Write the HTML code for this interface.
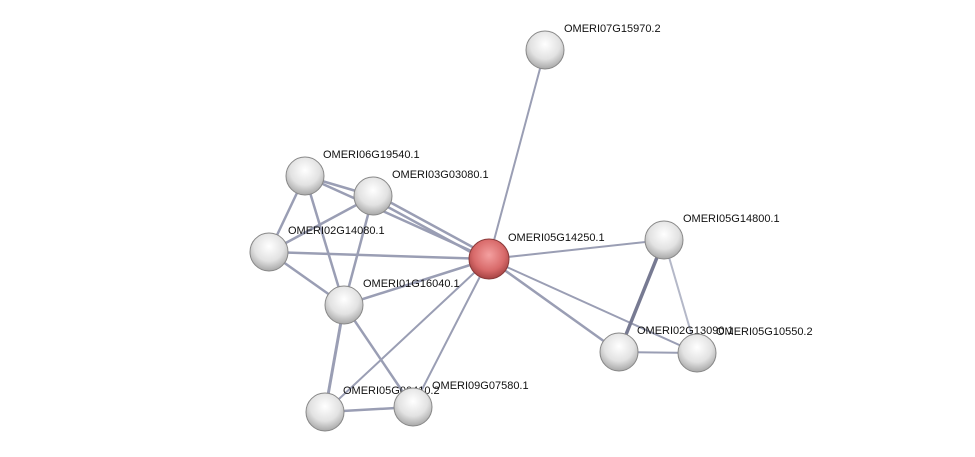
<!DOCTYPE html>
<html><head><meta charset="utf-8"><style>
html,body{margin:0;padding:0;background:#fff;}
svg{display:block;}
text{font-family:"Liberation Sans",sans-serif;font-size:11px;fill:#111;}
</style></head><body>
<svg width="975" height="457" viewBox="0 0 975 457" xmlns="http://www.w3.org/2000/svg">
<defs>
<radialGradient id="g" cx="50%" cy="35%" r="65%">
<stop offset="0" stop-color="#ffffff"/><stop offset="0.6" stop-color="#e2e2e2"/><stop offset="1" stop-color="#a8a8a8"/>
</radialGradient>
<radialGradient id="r" cx="50%" cy="40%" r="65%">
<stop offset="0" stop-color="#f4a0a0"/><stop offset="0.6" stop-color="#d86a6a"/><stop offset="1" stop-color="#9a3a3a"/>
</radialGradient>
</defs>
<g stroke="#9a9eb4" stroke-width="2.5" fill="none">
<line x1="489" y1="259" x2="545" y2="50" stroke-width="2"/>
<line x1="489" y1="259" x2="305" y2="176"/>
<line x1="489" y1="256" x2="373" y2="193"/>
<line x1="489" y1="262" x2="373" y2="199"/>
<line x1="489" y1="259" x2="269" y2="252"/>
<line x1="489" y1="259" x2="344" y2="305"/>
<line x1="489" y1="259" x2="664" y2="240" stroke-width="2"/>
<line x1="489" y1="259" x2="619" y2="352"/>
<line x1="489" y1="259" x2="697" y2="353" stroke-width="2"/>
<line x1="489" y1="259" x2="413" y2="407" stroke-width="2"/>
<line x1="489" y1="259" x2="325" y2="412" stroke-width="2"/>
<line x1="305" y1="176" x2="269" y2="252"/>
<line x1="305" y1="176" x2="373" y2="196"/>
<line x1="305" y1="176" x2="344" y2="305"/>
<line x1="373" y1="196" x2="269" y2="252"/>
<line x1="373" y1="196" x2="344" y2="305"/>
<line x1="269" y1="252" x2="344" y2="305"/>
<line x1="344" y1="305" x2="325" y2="412" stroke-width="3"/>
<line x1="344" y1="305" x2="413" y2="407"/>
<line x1="325" y1="412" x2="413" y2="407"/>
<line x1="664" y1="240" x2="619" y2="352" stroke="#777a92" stroke-width="3.5"/>
<line x1="664" y1="240" x2="697" y2="353" stroke="#b4b8c8" stroke-width="2"/>
<line x1="619" y1="352" x2="697" y2="353" stroke-width="2"/>
</g>
<g stroke="#888" stroke-width="1">
<circle cx="545" cy="50" r="19" fill="url(#g)"/>
<circle cx="305" cy="176" r="19" fill="url(#g)"/>
<circle cx="373" cy="196" r="19" fill="url(#g)"/>
<circle cx="269" cy="252" r="19" fill="url(#g)"/>
<circle cx="344" cy="305" r="19" fill="url(#g)"/>
<circle cx="664" cy="240" r="19" fill="url(#g)"/>
<circle cx="619" cy="352" r="19" fill="url(#g)"/>
<circle cx="325" cy="412" r="19" fill="url(#g)"/>
</g>
<text x="637" y="334">OMERI02G13090.1</text>
<circle cx="697" cy="353" r="19" fill="url(#g)" stroke="#888"/>
<text x="343" y="394">OMERI05G00410.2</text>
<circle cx="413" cy="407" r="19" fill="url(#g)" stroke="#888"/>
<circle cx="489" cy="259" r="20" fill="url(#r)" stroke="#8a3a3a"/>
<text x="564" y="32">OMERI07G15970.2</text>
<text x="323" y="158">OMERI06G19540.1</text>
<text x="392" y="178">OMERI03G03080.1</text>
<text x="288" y="234">OMERI02G14080.1</text>
<text x="508" y="241">OMERI05G14250.1</text>
<text x="683" y="222">OMERI05G14800.1</text>
<text x="363" y="287">OMERI01G16040.1</text>
<text x="716" y="335">OMERI05G10550.2</text>
<text x="432" y="389">OMERI09G07580.1</text>
</svg>
</body></html>
